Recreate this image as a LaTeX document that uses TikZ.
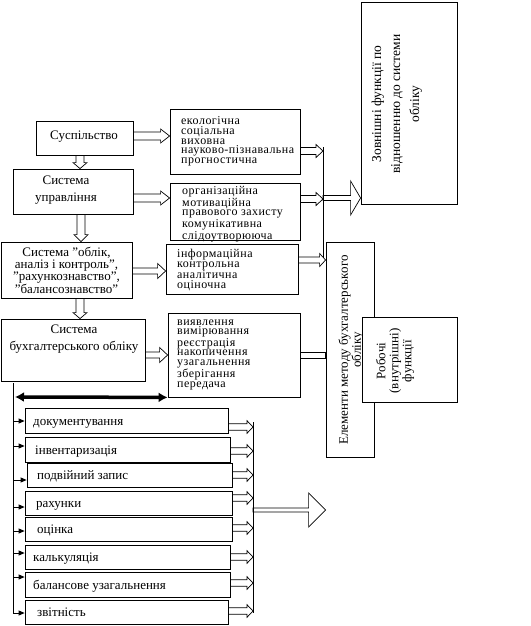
\documentclass[tikz,border=0pt]{standalone}
\usepackage{fontspec}
\setmainfont{Liberation Serif}
\usetikzlibrary{arrows.meta,calc}

\newcommand{\hblock}[5]{%
  \draw[blk] let \p1=#1, \p2=#2 in
  (\x1,\y1+#3) -- (\x2-#5,\y1+#3) -- (\x2-#5,\y1+#4) -- (\x2,\y1)
  -- (\x2-#5,\y1-#4) -- (\x2-#5,\y1-#3) -- (\x1,\y1-#3) -- cycle;}
\newcommand{\vblock}[5]{%
  \draw[blk] let \p1=#1, \p2=#2 in
  (\x1+#3,\y1) -- (\x1+#3,\y2+#5) -- (\x1+#4,\y2+#5) -- (\x1,\y2)
  -- (\x1-#4,\y2+#5) -- (\x1-#3,\y2+#5) -- (\x1-#3,\y1) -- cycle;}

\begin{document}
\begin{tikzpicture}[x=1pt,y=-1pt,
  box/.style={draw, line width=0.8pt, fill=white, inner sep=0pt},
  txt/.style={inner sep=0pt, font=\fontsize{13}{15}\selectfont},
  tight/.style={inner sep=0pt, align=left, font=\fontsize{12}{9.6}\selectfont\addfontfeatures{LetterSpace=4}},
  blk/.style={draw, line width=0.7pt},
  ln/.style={line width=0.8pt},
  sarr/.style={line width=0.8pt, -{Triangle[length=6pt,width=5pt]}},
]
\useasboundingbox (0,0) rectangle (530,626);

% left column
\node[box, minimum width=97pt, minimum height=34pt] (sus) at (84.5,138) {};
\node[txt] (sust) at (84,137) {Суспільство};
\node[box, minimum width=120pt, minimum height=45pt] (upr) at (73,191.5) {};
\node[txt, align=center, font=\fontsize{13}{17}\selectfont] (uprt) at (66,190.5) {Система\\управління};
\node[box, minimum width=131pt, minimum height=56pt, align=center, font=\fontsize{13}{12.3}\selectfont] (obl) at (66.5,270) {Система ”облік,\\аналіз і контроль”,\\”рахункознавство”,\\”балансознавство”};
\node[box, minimum width=144pt, minimum height=62pt] (buh) at (73,350) {};
\node[txt, align=center, font=\fontsize{13}{17}\selectfont] (buht) at (74,339) {Система\\бухгалтерського обліку};

% right column
\node[box, minimum width=130pt, minimum height=65pt] (eco) at (235,141.5) {};
\node[tight, anchor=west] (ecot) at (181,141.5) {екологічна\\соціальна\\виховна\\науково-пізнавальна\\прогностична};
\node[box, minimum width=130pt, minimum height=57pt] (org) at (235,211.5) {};
\node[tight, anchor=west] (orgt) at (182,214) {організаційна\\мотиваційна\\правового захисту\\комунікативна\\слідоутворююча};
\node[box, minimum width=132pt, minimum height=50pt] (inf) at (232,269) {};
\node[tight, anchor=west] (inft) at (177,270) {інформаційна\\контрольна\\аналітична\\оціночна};
\node[box, minimum width=132pt, minimum height=84pt] (vyy) at (234,355) {};
\node[tight, anchor=west] (vyyt) at (177,354.5) {виявлення\\вимірювання\\реєстрація\\накопичення\\узагальнення\\зберігання\\передача};

% far right
\node[box, minimum width=96pt, minimum height=202pt] (zovn) at (409,103) {};
\node[txt, rotate=90, align=center, font=\fontsize{13.5}{19}\selectfont] (zovnt) at (397,104) {Зовнішні функції по\\відношенню до системи\\обліку};
\node[box, minimum width=48pt, minimum height=215pt] (elem) at (350,349.5) {};
\node[txt, rotate=90, align=center, font=\fontsize{13}{13}\selectfont] (elemt) at (351,350) {Елементи методу бухгалтерського\\обліку};
\node[box, minimum width=95pt, minimum height=85pt] (rob) at (409.5,359.5) {};
\node[txt, rotate=90, align=center, font=\fontsize{13}{13}\selectfont] (robt) at (395,361) {Робочі\\(внутрішні)\\функції};

% list
\node[box, minimum width=203pt, minimum height=25pt] (doc) at (126.5,420.5) {};
\node[txt, anchor=base west] (doct) at (33,425) {документування};
\node[box, minimum width=205pt, minimum height=25pt] (inv) at (127.5,449.5) {};
\node[txt, anchor=base west] (invt) at (35,454) {інвентаризація};
\node[box, minimum width=205pt, minimum height=24pt] (pod) at (129.5,475) {};
\node[txt, anchor=base west] (podt) at (37,479.5) {подвійний запис};
\node[box, minimum width=207pt, minimum height=24pt] (rah) at (128.5,503) {};
\node[txt, anchor=base west] (raht) at (36,507.5) {рахунки};
\node[box, minimum width=207pt, minimum height=24pt] (oci) at (128.5,529) {};
\node[txt, anchor=base west] (ocit) at (37,533.5) {оцінка};
\node[box, minimum width=205pt, minimum height=24pt] (kal) at (127.5,557) {};
\node[txt, anchor=base west] (kalt) at (33,561.5) {калькуляція};
\node[box, minimum width=205pt, minimum height=25pt] (bal) at (127.5,584.5) {};
\node[txt, anchor=base west] (balt) at (33,589) {балансове узагальнення};
\node[box, minimum width=203pt, minimum height=24pt] (zvi) at (126.5,612) {};
\node[txt, anchor=base west] (zvit) at (37,616.5) {звітність};

% block arrows, left part
\vblock{($(sus.south)+(-4.5,0)$)}{(upr.north)}{4pt}{7pt}{6pt}
\vblock{($(upr.south)+(8,0)$)}{(obl.north)}{4pt}{7pt}{7pt}
\vblock{($(obl.south)+(13.5,0)$)}{(buh.north)}{4pt}{7pt}{6pt}
\hblock{($(sus.east)+(0,-2)$)}{(eco.west)}{4pt}{7pt}{9pt}
\hblock{($(upr.east)+(0,6.5)$)}{(org.west)}{4pt}{7pt}{9pt}
\hblock{($(obl.east)+(0,1)$)}{(inf.west)}{3pt}{7.5pt}{8pt}
\hblock{($(buh.east)+(0,5)$)}{(vyy.west)}{3pt}{7.5pt}{8pt}

% right collector
\coordinate (vtop) at (323,147);
\coordinate (vbot) at (323,258);
\coordinate (junc) at (323,198);
\draw[ln] (vtop) -- (vbot);
\hblock{($(eco.east)+(0,9.5)$)}{(vtop)}{3.5pt}{6.5pt}{7pt}
\hblock{($(org.east)+(0,-12.5)$)}{(vtop)}{3.5pt}{6.5pt}{7pt}
\hblock{($(inf.east)+(0,-9)$)}{(elem.west)}{3pt}{6.5pt}{6pt}
\hblock{(junc)}{(zovn.west)}{2.5pt}{17pt}{10pt}
\draw[blk] ($(vyy.east)+(0,-3)$) rectangle ($(elem.west |- vyy.east)+(0,3)$);

% left list bus
\coordinate (lt) at (13,383);
\coordinate (lb) at (13,613);
\coordinate (thl) at (15,397);
\draw[ln] (lt) -- (lb);
\draw[line width=3.5pt, {Latex[length=9pt,width=10pt]}-{Latex[length=9pt,width=10pt]}] (thl) -- (vyy.south west);
\foreach \nm/\yy in {doc/421, inv/446, pod/480, rah/507, oci/531, kal/553, bal/577, zvi/613}
  {\draw[sarr] (13,\yy) -- (\nm.west |- 0,\yy);}

% right list bus
\coordinate (rt) at (253,422);
\coordinate (rb) at (253,613);
\coordinate (rj) at (253,510);
\draw[ln] (rt) -- (rb);
\foreach \nm/\yy in {doc/427, inv/451, pod/475, rah/498, oci/528, kal/557, bal/583, zvi/611}
  {\hblock{(\nm.east |- 0,\yy)}{(rt)}{3.3pt}{6.3pt}{6pt}}
\hblock{(rj)}{(elem.west)}{2pt}{17pt}{17pt}
\end{tikzpicture}
\end{document}
